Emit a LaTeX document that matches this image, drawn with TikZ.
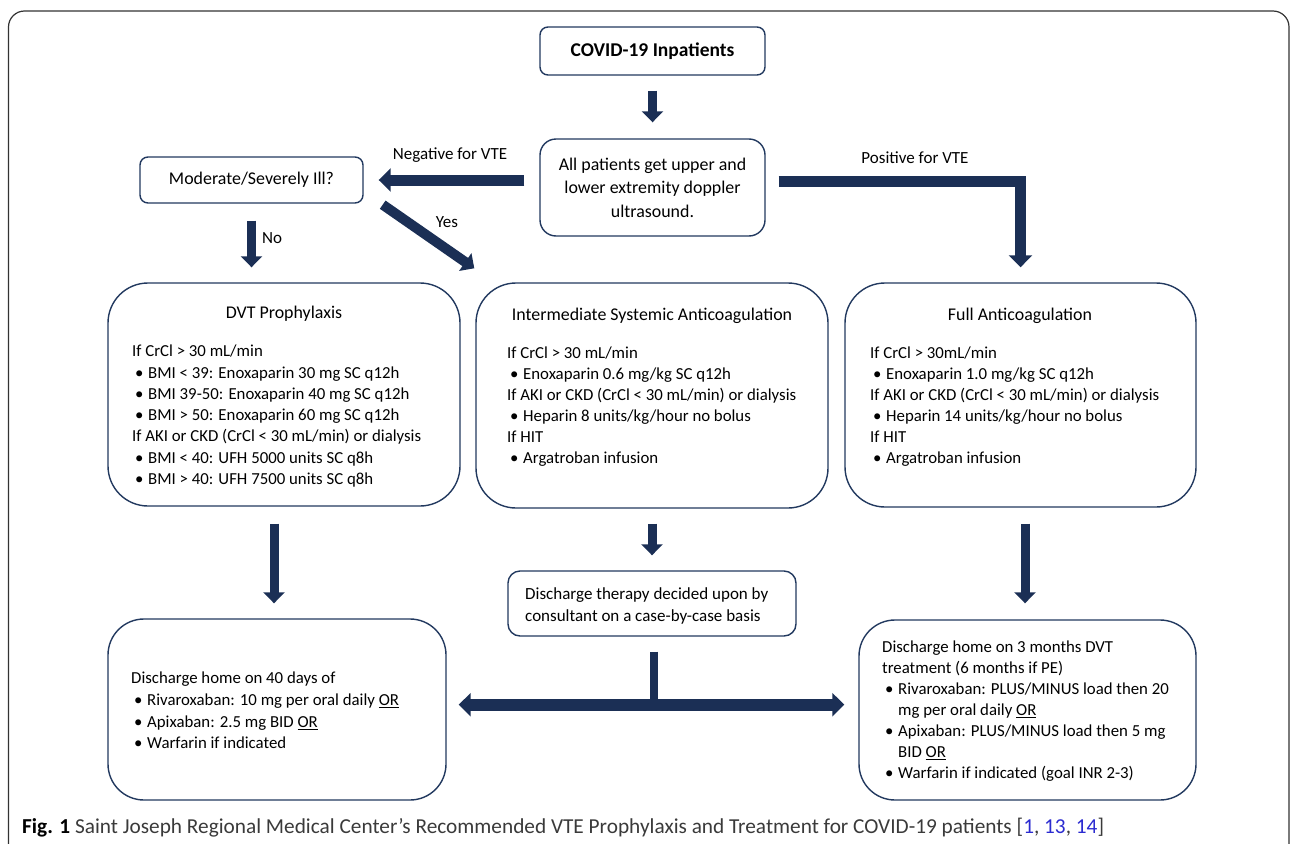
\documentclass[tikz,border=0pt]{standalone}
\usepackage{fontspec}
\setmainfont{Carlito}
\usetikzlibrary{arrows.meta,calc}
\definecolor{navy}{HTML}{1B2F55}
\definecolor{boxc}{HTML}{22395F}
\definecolor{framec}{HTML}{333333}
\definecolor{capgray}{HTML}{3A3A3A}
\definecolor{citeblue}{HTML}{2B2BD0}
\newcommand{\bl}{\makebox[16pt][l]{\hspace{3pt}\textbullet}}
\newcommand{\cont}{\hspace*{16pt}}
\begin{document}
\begin{tikzpicture}[x=1pt,y=-1pt,
  box/.style={draw=boxc, line width=1.4pt, inner sep=0pt, fill=white},
  txt/.style={inner sep=0pt, align=left, anchor=north west, font=\fontsize{16.8}{21.2}\selectfont},
  ttl/.style={inner sep=0pt, font=\fontsize{17.9}{21}\selectfont},
  lbl/.style={inner sep=0pt, font=\fontsize{17}{20}\selectfont},
  fatv/.style={draw=navy, line width=9pt, -{Triangle[width=21pt,length=11pt]}},
  fath/.style={draw=navy, line width=11pt, -{Triangle[width=23pt,length=12pt]}},
]
\useasboundingbox (0,0) rectangle (1292,843);
\clip (0,0) rectangle (1292,843);
\draw[framec, line width=1.2pt, rounded corners=16pt] (8.5,11) rectangle (1289,900);

% nodes
\node[box, rounded corners=8pt, minimum width=225pt, minimum height=48pt,
      font=\bfseries\fontsize{19.5}{22}\selectfont] (covid) at (652.5,51) {COVID-19 Inpatients};
\node[box, rounded corners=16pt, minimum width=225pt, minimum height=97pt, align=center,
      font=\fontsize{17.9}{23.5}\selectfont] (us) at (652.5,187.5)
      {All patients get upper and\\lower extremity doppler\\ultrasound.};
\node[box, rounded corners=8pt, minimum width=223pt, minimum height=46pt,
      font=\fontsize{17.9}{21}\selectfont] (mod) at (251.5,180) {Moderate/Severely Ill?};

\node[box, rounded corners=40pt, minimum width=352pt, minimum height=223pt] (dvt) at (284,394.5) {};
\node[box, rounded corners=40pt, minimum width=352pt, minimum height=225pt] (inter) at (652,395.5) {};
\node[box, rounded corners=40pt, minimum width=351pt, minimum height=224pt] (full) at (1020.5,395) {};
\node[box, rounded corners=12pt, minimum width=288pt, minimum height=65pt] (consult) at (652,603.5) {};
\node[box, rounded corners=36pt, minimum width=338pt, minimum height=181pt] (dis40) at (277,709.5) {};
\node[box, rounded corners=36pt, minimum width=337pt, minimum height=180pt] (dis3) at (1027.5,710) {};

\node[ttl] (dvtT) at (284,314) {DVT Prophylaxis};
\node[ttl] (interT) at (652,316) {Intermediate Systemic Anticoagulation};
\node[ttl] (fullT) at (1020,316) {Full Anticoagulation};

\node[txt, font=\fontsize{16.8}{21.25}\selectfont] (dvtB) at (132,345) {If CrCl > 30 mL/min\\
\bl BMI < 39: Enoxaparin 30 mg SC q12h\\
\bl BMI 39-50: Enoxaparin 40 mg SC q12h\\
\bl BMI > 50: Enoxaparin 60 mg SC q12h\\
If AKI or CKD (CrCl < 30 mL/min) or dialysis\\
\bl BMI < 40: UFH 5000 units SC q8h\\
\bl BMI > 40: UFH 7500 units SC q8h};

\node[txt, font=\fontsize{16.8}{21}\selectfont] (interB) at (507,347) {If CrCl > 30 mL/min\\
\bl Enoxaparin 0.6 mg/kg SC q12h\\
If AKI or CKD (CrCl < 30 mL/min) or dialysis\\
\bl Heparin 8 units/kg/hour no bolus\\
If HIT\\
\bl Argatroban infusion};

\node[txt, font=\fontsize{16.8}{21}\selectfont] (fullB) at (870,347) {If CrCl > 30mL/min\\
\bl Enoxaparin 1.0 mg/kg SC q12h\\
If AKI or CKD (CrCl < 30 mL/min) or dialysis\\
\bl Heparin 14 units/kg/hour no bolus\\
If HIT\\
\bl Argatroban infusion};

\node[txt, font=\fontsize{17}{22}\selectfont] (consultB) at (525,587) {Discharge therapy decided upon by\\
consultant on a case-by-case basis};

\node[txt, font=\fontsize{16.8}{21.7}\selectfont] (dis40B) at (131,672) {Discharge home on 40 days of\\
\bl Rivaroxaban: 10 mg per oral daily \underline{OR}\\
\bl Apixaban: 2.5 mg BID \underline{OR}\\
\bl Warfarin if indicated};

\node[txt, font=\fontsize{16.8}{21}\selectfont] (dis3B) at (882,641) {Discharge home on 3 months DVT\\
treatment (6 months if PE)\\
\bl Rivaroxaban: PLUS/MINUS load then 20\\
\cont mg per oral daily \underline{OR}\\
\bl Apixaban: PLUS/MINUS load then 5 mg\\
\cont BID \underline{OR}\\
\bl Warfarin if indicated (goal INR 2-3)};

% labels
\node[lbl] (negL) at (450,155) {Negative for VTE};
\node[lbl] (posL) at (915,158) {Positive for VTE};
\node[lbl] (noL) at (272,238) {No};
\node[lbl] (yesL) at (447,222) {Yes};

% connectors
\draw[fatv] ($(covid.south)+(0,15)$) -- ($(us.north)+(0,-16)$);
\draw[fath] ($(us.west |- mod.east)+(-15,0)$) -- ($(mod.east)+(15,0)$);
\draw[fath, line join=miter] ($(us.east)+(13,-6.5)$) -| ($(full.north)+(0,-15)$);
\draw[fatv] ($(mod.south)+(0,17)$) -- ($(mod.south |- dvt.north)+(0,-15)$);
\draw[fatv, line width=10pt] ($(mod.south east)+(19,1)$) -- ($(inter.north west)+(-1,-14)$);
\draw[fatv] ($(dvt.south)+(-10,17)$) -- ($(dis40.north)+(-3,-15)$);
\draw[fatv] ($(inter.south)+(0,15)$) -- ($(consult.north)+(0,-15)$);
\draw[fatv] ($(full.south)+(4.5,16)$) -- ($(dis3.north)+(-2.5,-16)$);
\coordinate (tj) at ($(consult.south)+(2,68)$);
\draw[navy, line width=8pt] ($(consult.south)+(2,15)$) -- ($(tj)+(0,5)$);
\draw[fath, line width=12pt, {Triangle[width=23pt,length=12pt]}-{Triangle[width=23pt,length=12pt]}]
  ($(tj -| dis40.east)+(12,0)$) -- ($(tj -| dis3.west)+(-14,0)$);

% caption
\node[inner sep=0pt, anchor=base west, font=\fontsize{21.3}{24}\selectfont] (cap) at (22,833)
  {\textbf{Fig. 1} \textcolor{capgray}{Saint Joseph Regional Medical Center's Recommended VTE Prophylaxis and Treatment for COVID-19 patients [\textcolor{citeblue}{1}, \textcolor{citeblue}{13}, \textcolor{citeblue}{14}]}};
\end{tikzpicture}
\end{document}
